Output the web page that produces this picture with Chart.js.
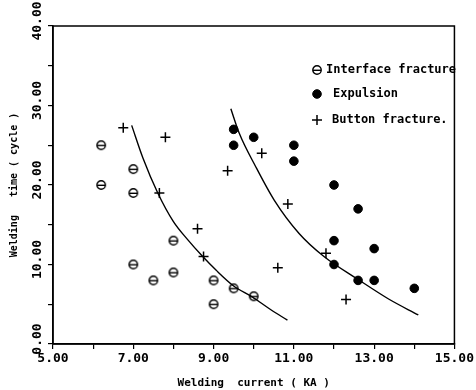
<!DOCTYPE html>
<html>
<head>
<meta charset="utf-8">
<script src="https://cdn.jsdelivr.net/npm/chart.js@4.4.1/dist/chart.umd.min.js"></script>
<style>
  html, body { margin: 0; padding: 0; background: #fff; }
</style>
</head>
<body>
<canvas id="weldChart" width="476" height="390"></canvas>
<script>
// values
const interfaceCurrent = [6.2, 6.2, 7.0, 7.0, 7.0, 7.5, 8.0, 8.0, 9.0, 9.0, 9.5, 10.0];
const interfaceTime    = [25, 20, 22, 19, 10, 8, 13, 9, 8, 5, 7, 6];

const expulsionCurrent = [9.5, 9.5, 10.0, 11.0, 11.0, 12.0, 12.6, 12.0, 13.0, 12.0, 12.6, 13.0, 14.0];
const expulsionTime    = [27, 25, 26, 25, 23, 20, 17, 13, 12, 10, 8, 8, 7];

const buttonCurrent = [6.75, 7.8, 7.65, 9.35, 10.2, 8.6, 8.75, 10.85, 10.6, 11.8, 12.3];
const buttonTime    = [27.2, 26, 19, 21.8, 24, 14.5, 11, 17.6, 9.6, 11.4, 5.6];

// boundary curves
const lowerCurrent = [6.96, 7.24, 7.61, 8.0, 8.36, 8.73, 9.06, 9.5, 9.97, 10.4, 10.84];
const lowerTime    = [27.5, 23.4, 19.0, 15.4, 13.1, 11.0, 9.3, 7.3, 5.9, 4.4, 3.0];
const upperCurrent = [9.43, 9.64, 10.05, 10.51, 11.13, 11.75, 12.62, 13.36, 14.1];
const upperTime    = [29.6, 26.5, 22.3, 18.1, 13.9, 11.0, 8.05, 5.66, 3.65];

const legendLabels = ['Interface fracture', 'Expulsion', 'Button fracture.'];

const xTicks = [5, 7, 9, 11, 13, 15];
const yTicks = [0, 10, 20, 30, 40];

function pairs(xs, ys) {
  return xs.map((x, i) => ({ x: x, y: ys[i] }));
}

// circle with a bar through it
function thetaMark() {
  const c = document.createElement('canvas');
  c.width = 12; c.height = 12;
  const g = c.getContext('2d');
  g.strokeStyle = '#000';
  g.lineWidth = 1.4;
  g.beginPath();
  g.arc(6, 6, 4.2, 0, Math.PI * 2);
  g.stroke();
  g.beginPath();
  g.moveTo(1.8, 6.3);
  g.lineTo(10.2, 6.3);
  g.stroke();
  return c;
}
const theta = thetaMark();

const mono = "'DejaVu Sans Mono', 'Liberation Mono', monospace";

const frame = {
  id: 'frame',
  afterDraw(chart) {
    const { ctx, chartArea: a } = chart;
    ctx.save();
    ctx.strokeStyle = '#000';
    ctx.lineWidth = 1.5;
    ctx.strokeRect(a.left, a.top, a.right - a.left, a.bottom - a.top);
    ctx.restore();
  }
};

const boxLegend = {
  id: 'boxLegend',
  afterDraw(chart) {
    const ctx = chart.ctx;
    const rows = [
      { y: 70, tx: 326 },
      { y: 94, tx: 333 },
      { y: 120, tx: 332 }
    ];
    ctx.save();
    ctx.fillStyle = '#000';
    ctx.strokeStyle = '#000';
    ctx.font = 'bold 12px ' + mono;
    ctx.textBaseline = 'middle';
    rows.forEach((r, i) => {
      const ds = chart.data.datasets[i];
      ctx.lineWidth = ds.borderWidth || 1;
      Chart.helpers.drawPoint(ctx, { pointStyle: ds.pointStyle, radius: ds.pointRadius, rotation: 0, borderWidth: ds.borderWidth }, 317, r.y);
      ctx.fillStyle = '#000';
      ctx.fillText(legendLabels[i], r.tx, r.y);
    });
    ctx.restore();
  }
};

new Chart(document.getElementById('weldChart'), {
  type: 'scatter',
  data: {
    datasets: [
      {
        label: legendLabels[0],
        data: pairs(interfaceCurrent, interfaceTime),
        pointStyle: theta,
        pointRadius: 5,
        borderWidth: 1.4,
        borderColor: '#000',
        backgroundColor: 'rgba(0,0,0,0)'
      },
      {
        label: legendLabels[1],
        data: pairs(expulsionCurrent, expulsionTime),
        pointStyle: 'circle',
        pointRadius: 4.3,
        borderWidth: 1,
        borderColor: '#000',
        backgroundColor: '#000'
      },
      {
        label: legendLabels[2],
        data: pairs(buttonCurrent, buttonTime),
        pointStyle: 'cross',
        pointRadius: 5,
        borderWidth: 1.5,
        borderColor: '#000',
        backgroundColor: '#000'
      },
      {
        data: pairs(lowerCurrent, lowerTime),
        showLine: true,
        pointRadius: 0,
        borderWidth: 1.4,
        borderColor: '#000',
        cubicInterpolationMode: 'monotone'
      },
      {
        data: pairs(upperCurrent, upperTime),
        showLine: true,
        pointRadius: 0,
        borderWidth: 1.4,
        borderColor: '#000',
        cubicInterpolationMode: 'monotone'
      }
    ]
  },
  options: {
    responsive: false,
    animation: false,
    devicePixelRatio: 1,
    layout: { padding: { top: 26, right: 20, left: 0, bottom: 0 } },
    plugins: {
      legend: { display: false },
      tooltip: { enabled: false }
    },
    scales: {
      x: {
        type: 'linear',
        min: 5,
        max: 15,
        afterFit(scale) { scale.height = 46; },
        ticks: {
          stepSize: 1,
          color: '#000',
          padding: 2,
          maxRotation: 0,
          autoSkip: false,
          font: { family: mono, size: 13, weight: 'bold' },
          callback: v => xTicks.includes(v) ? v.toFixed(2) : ''
        },
        grid: { drawOnChartArea: false, color: '#000', tickLength: 5, lineWidth: 1.2 },
        border: { display: true, color: '#000', width: 1.5 },
        title: {
          display: true,
          text: 'Welding  current ( KA )',
          color: '#000',
          font: { family: mono, size: 11, weight: 'bold' },
          padding: { top: 0, bottom: 0 }
        }
      },
      y: {
        type: 'linear',
        min: 0,
        max: 40,
        afterFit(scale) { scale.width = 53; },
        ticks: {
          stepSize: 5,
          color: '#000',
          minRotation: 90,
          maxRotation: 90,
          crossAlign: 'center',
          padding: -9,
          labelOffset: -5,
          autoSkip: false,
          font: { family: mono, size: 13, weight: 'bold' },
          callback: v => yTicks.includes(v) ? v.toFixed(2) : ''
        },
        grid: { drawOnChartArea: false, color: '#000', tickLength: 5, lineWidth: 1.2 },
        border: { display: true, color: '#000', width: 1.5 },
        title: {
          display: true,
          text: 'Welding   time ( cycle )',
          color: '#000',
          font: { family: mono, size: 10, weight: 'bold' },
          padding: { top: 8, bottom: 0 }
        }
      }
    }
  },
  plugins: [frame, boxLegend]
});
</script>
</body>
</html>
